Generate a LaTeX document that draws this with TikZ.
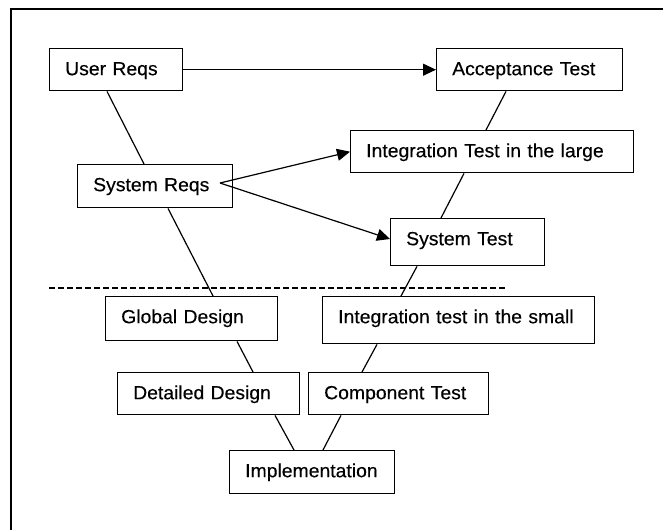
\documentclass[tikz,border=0pt]{standalone}
\usepackage{fontspec}
\setmainfont{Liberation Sans}[FakeStretch=1.02,FakeBold=0.3]
\usetikzlibrary{arrows.meta,calc}
\begin{document}
\begin{tikzpicture}[x=1pt,y=-1pt,
  box/.style={draw,line width=1.4pt,rectangle,anchor=north west,inner xsep=15.5pt,inner ysep=0pt,
    align=left,text height=26.5pt,font=\fontsize{19}{22}\selectfont},
  link/.style={line width=1.2pt},
  arr/.style={line width=1.2pt,-{Triangle[length=13pt,width=12pt]}},
  border/.style={line width=2.5pt}]
\useasboundingbox (0,0) rectangle (663,530);
\draw[border] (11,530) -- (11,9) -- (663,9);
% left branch
\node[box,text width=102pt,text depth=15.5pt] (ur) at (49,48) {User Reqs};
\node[box,text width=124pt,text depth=16.5pt] (sr) at (77,164) {System Reqs};
\node[box,text width=141pt,text depth=17.5pt] (gd) at (105,296) {Global Design};
\node[box,text width=151pt,text depth=15.5pt] (dd) at (117,372) {Detailed Design};
\node[box,text width=134pt,text depth=16.5pt] (impl) at (229,450) {Implementation};
% right branch
\node[box,text width=149pt,text depth=15.5pt] (ct) at (308,372) {Component Test};
\node[box,text width=241pt,text depth=20.5pt] (its) at (322,296) {Integration test in the small};
\node[box,text width=123pt,text depth=20.5pt] (st) at (390,218) {System Test};
\node[box,text width=252pt,text depth=15.5pt] (itl) at (350,130) {Integration Test in the large};
\node[box,text width=155pt,text depth=15.5pt] (at) at (436,48) {Acceptance Test};
% V connectors
\draw[link] ($(ur.south west)+(58,0)$) -- ($(sr.north west)+(67,0)$);
\draw[link] ($(sr.south west)+(91,0)$) -- ($(gd.north west)+(108,0)$);
\draw[link] ($(gd.south west)+(132,0)$) -- ($(dd.north west)+(136,0)$);
\draw[link] ($(dd.south west)+(158,0)$) -- ($(impl.north west)+(65,0)$);
\draw[link] ($(impl.north west)+(94,0)$) -- ($(ct.south west)+(33,0)$);
\draw[link] ($(ct.north west)+(54,0)$) -- ($(its.south west)+(55,0)$);
\draw[link] ($(its.north west)+(79,0)$) -- ($(st.south west)+(27,0)$);
\draw[link] ($(st.north west)+(51,0)$) -- ($(itl.south west)+(114,0)$);
\draw[link] ($(itl.north west)+(136,0)$) -- ($(at.south west)+(70,0)$);
% arrows
\coordinate (srp) at ($(sr.north west)+(143,19)$);
\draw[arr] (ur.east) -- (at.west);
\draw[arr] (srp) -- (itl.west);
\draw[arr] (srp) -- ($(st.north west)+(0,21)$);
% dashed separator
\coordinate (dl) at (49,288);
\coordinate (dr) at (507,288);
\draw[line width=1.2pt,dash pattern=on 6pt off 3pt] (dl) -- (dr);
\end{tikzpicture}
\end{document}
